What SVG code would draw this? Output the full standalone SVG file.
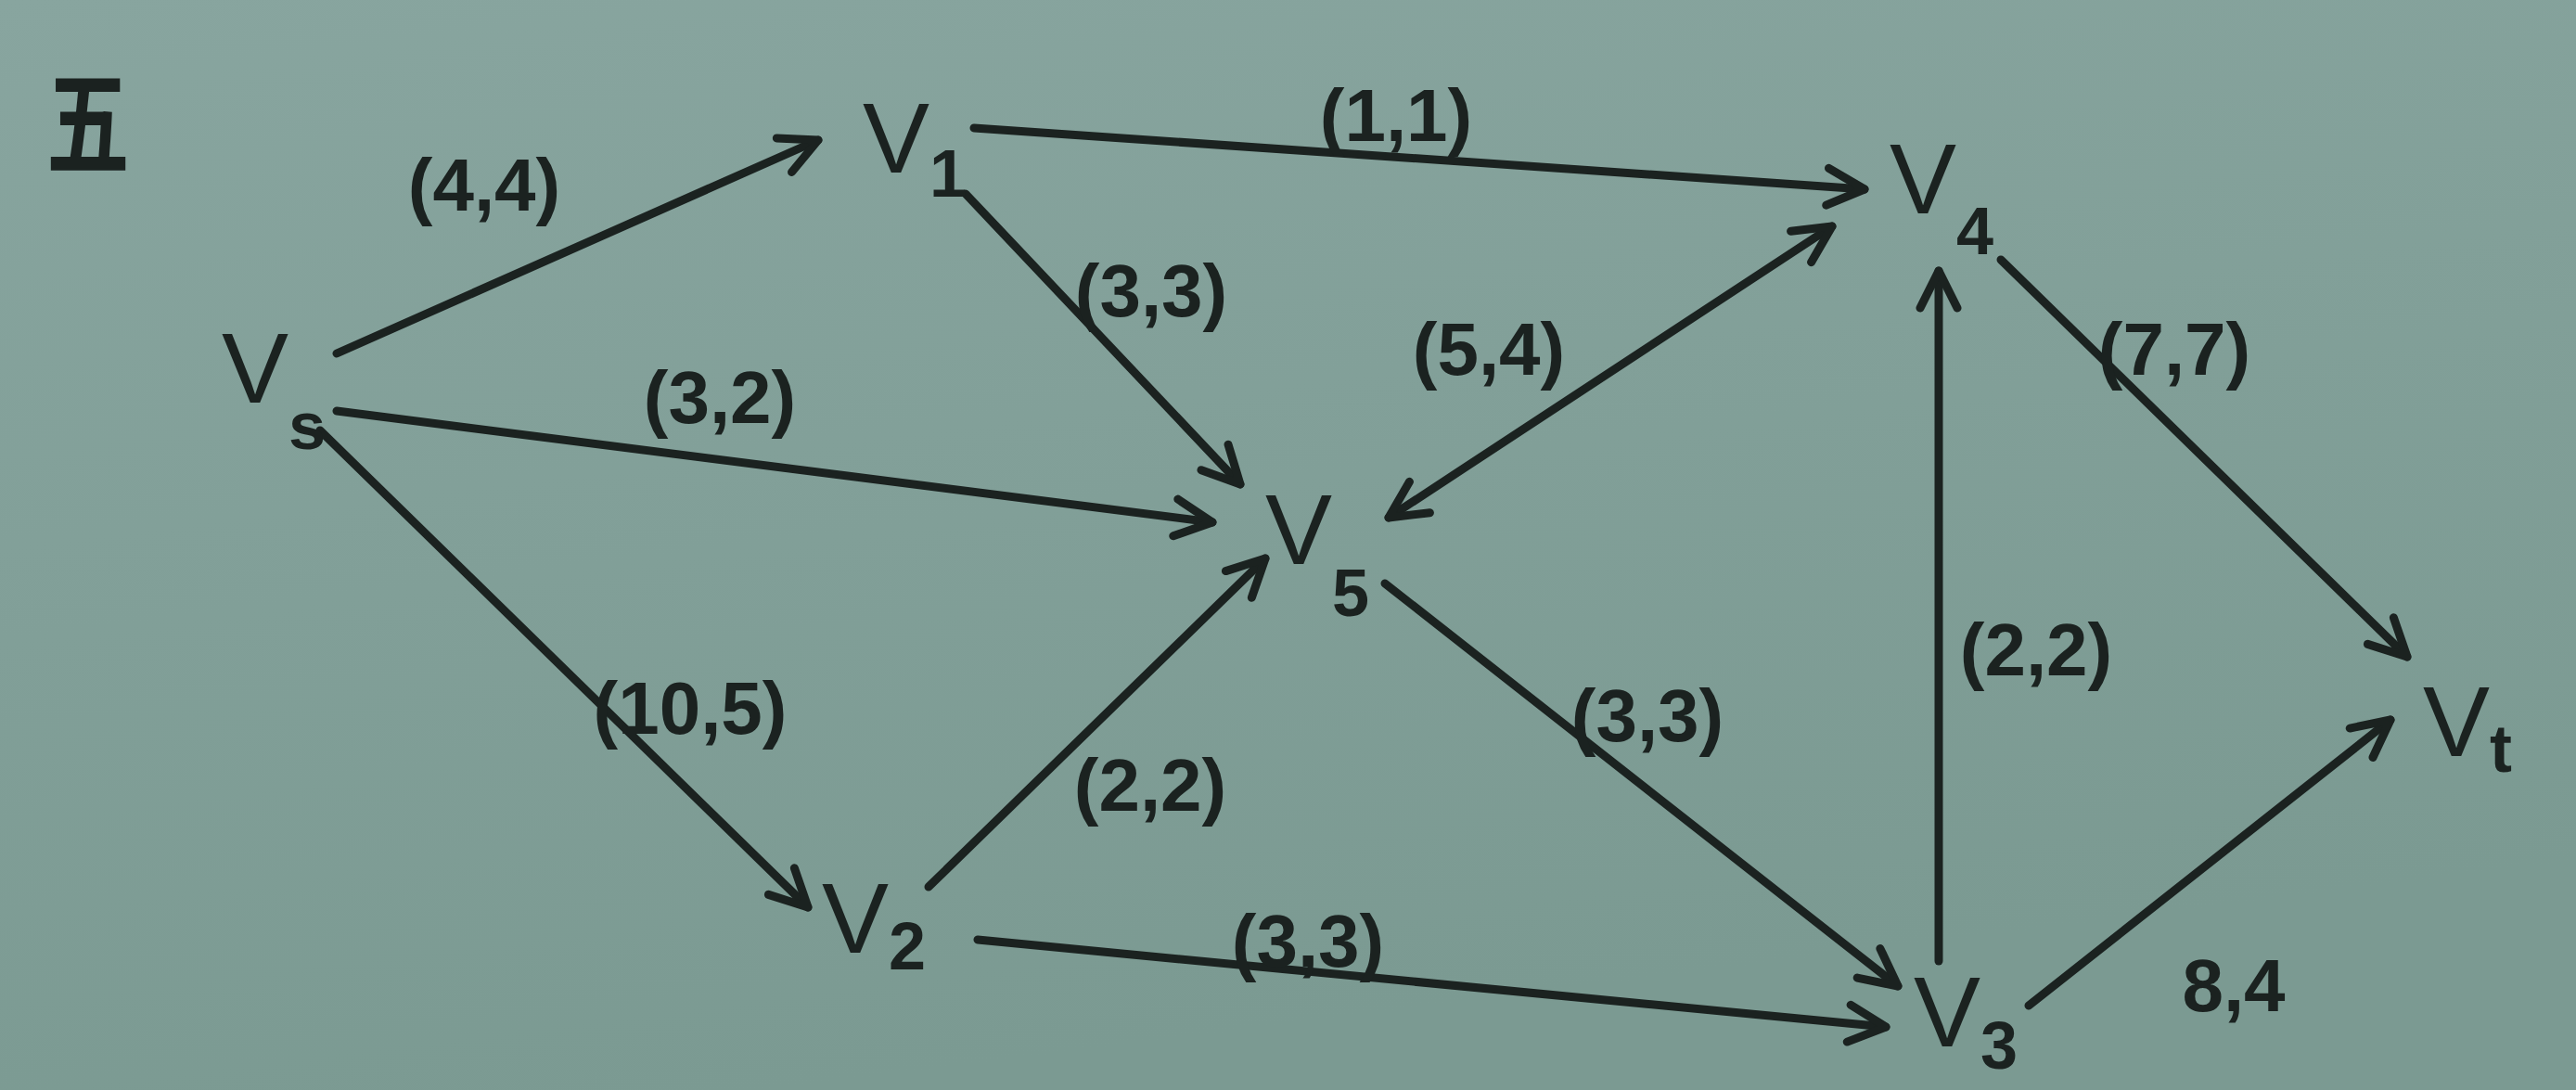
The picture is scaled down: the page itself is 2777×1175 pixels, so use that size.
<svg xmlns="http://www.w3.org/2000/svg" width="2777" height="1175" viewBox="0 0 2777 1175">
<defs>
<linearGradient id="bg" x1="0" y1="0" x2="0.3" y2="1">
<stop offset="0" stop-color="#88a59f"/>
<stop offset="1" stop-color="#7b9a92"/>
</linearGradient>
<marker id="arr" markerUnits="userSpaceOnUse" markerWidth="56" markerHeight="56" viewBox="0 0 56 56" refX="50" refY="28" orient="auto-start-reverse">
<path d="M10,8 L50,28 L10,48" fill="none" stroke="#1b2220" stroke-width="9" stroke-linecap="round" stroke-linejoin="round"/>
</marker>
<style>
.edge{stroke:#1b2220;stroke-width:9;stroke-linecap:round;fill:none;marker-end:url(#arr)}
.lbl{font-family:"Liberation Sans","DejaVu Sans",sans-serif;font-size:80px;font-weight:700;fill:#1b2220;text-anchor:middle;dominant-baseline:central}
.node{font-family:"Liberation Sans","DejaVu Sans",sans-serif;font-size:108px;fill:#1b2220}
.sub{font-size:72px;font-weight:700}
.title{font-family:"Noto Sans CJK SC","Noto Sans CJK JP",sans-serif;font-size:112px;font-weight:700;fill:#1b2220}
</style>
</defs>
<rect width="2777" height="1175" fill="url(#bg)"/>
<text class="title" x="50" y="178" transform="translate(50 178) scale(0.8 1.1) translate(-50 -178)">五</text>
<g id="connectors">
<line class="edge" x1="363" y1="381" x2="882" y2="151"/>
<line class="edge" x1="1050" y1="138" x2="2010" y2="204"/>
<line class="edge" x1="1041" y1="209" x2="1337" y2="522"/>
<line class="edge" x1="363" y1="443" x2="1307" y2="563"/>
<line class="edge" x1="1497" y1="558" x2="1975" y2="244" style="marker-start:url(#arr)"/>
<line class="edge" x1="345" y1="464" x2="871" y2="978"/>
<line class="edge" x1="1001" y1="956" x2="1364" y2="602"/>
<line class="edge" x1="1054" y1="1013" x2="2033" y2="1107"/>
<line class="edge" x1="1493" y1="629" x2="2046" y2="1063"/>
<line class="edge" x1="2090" y1="1036" x2="2090" y2="292"/>
<line class="edge" x1="2157" y1="280" x2="2595" y2="708"/>
<line class="edge" x1="2187" y1="1084" x2="2577" y2="776"/>
<text class="lbl" x="522" y="199">(4,4)</text>
<text class="lbl" x="1505" y="124">(1,1)</text>
<text class="lbl" x="1241" y="313">(3,3)</text>
<text class="lbl" x="776" y="428">(3,2)</text>
<text class="lbl" x="1605" y="376">(5,4)</text>
<text class="lbl" x="744" y="763">(10,5)</text>
<text class="lbl" x="1240" y="846">(2,2)</text>
<text class="lbl" x="1410" y="1014">(3,3)</text>
<text class="lbl" x="1776" y="771">(3,3)</text>
<text class="lbl" x="2195" y="700">(2,2)</text>
<text class="lbl" x="2344" y="376">(7,7)</text>
<text class="lbl" x="2408" y="1062">8,4</text>
</g>
<g id="node-vs"><text class="node" x="239" y="434">V<tspan class="sub" dy="50">s</tspan></text></g>
<g id="node-v1"><text class="node" x="930" y="186">V<tspan class="sub" dy="26">1</tspan></text></g>
<g id="node-v4"><text class="node" x="2037" y="230">V<tspan class="sub" dy="44">4</tspan></text></g>
<g id="node-v5"><text class="node" x="1364" y="608">V<tspan class="sub" dy="56">5</tspan></text></g>
<g id="node-v2"><text class="node" x="886" y="1027">V<tspan class="sub" dy="18">2</tspan></text></g>
<g id="node-v3"><text class="node" x="2063" y="1128">V<tspan class="sub" dy="24">3</tspan></text></g>
<g id="node-vt"><text class="node" x="2612" y="815">V<tspan class="sub" dy="17">t</tspan></text></g>
</svg>
